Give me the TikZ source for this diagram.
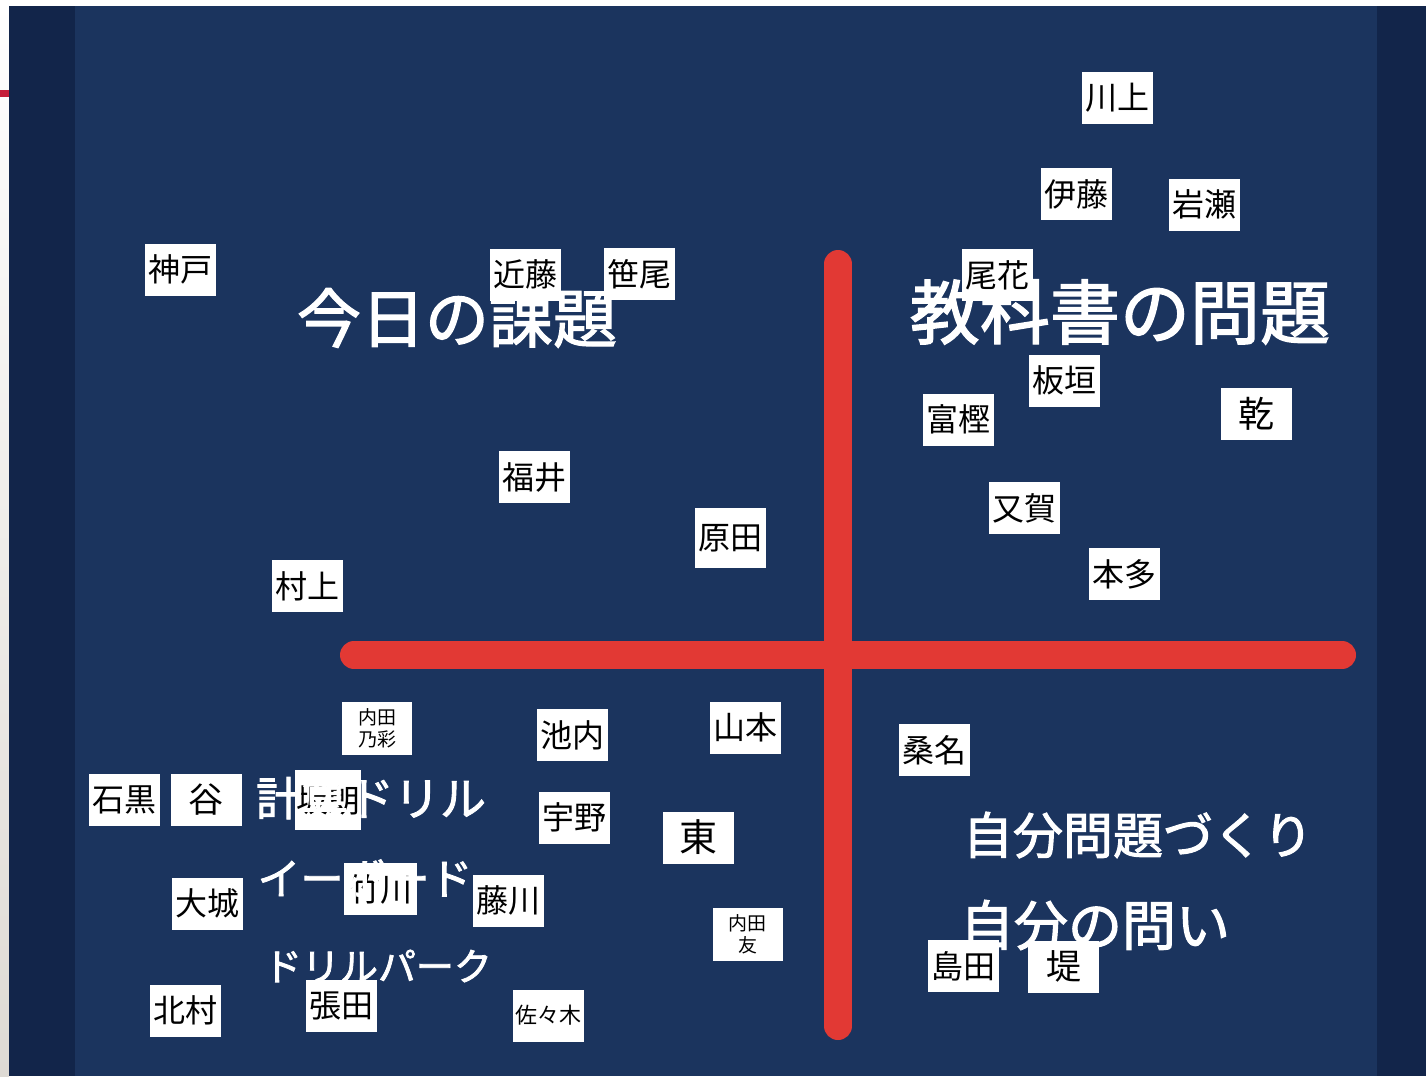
\documentclass[tikz,border=0pt]{standalone}
\usepackage{fontspec}
\newfontfamily\cjk{Noto Sans CJK JP}
\newfontfamily\hw[FakeBold=2]{Noto Sans CJK JP}
\definecolor{panel}{RGB}{27,52,94}
\definecolor{strip}{RGB}{18,37,74}
\definecolor{crossred}{RGB}{226,57,52}
\definecolor{tickred}{RGB}{196,30,58}
\definecolor{margin}{RGB}{222,218,212}
\tikzset{
  namebox/.style={fill=white, inner sep=0pt, minimum width=71pt, minimum height=52pt,
    text=black, font=\cjk\fontsize{32}{32}\selectfont},
  smallbox/.style={namebox, minimum width=70pt, minimum height=53pt, align=center,
    font=\cjk\fontsize{19}{22}\selectfont},
  hand/.style={text=white, inner sep=0pt},
  crossbar/.style={draw=crossred, line width=28pt, line cap=round}
}
\begin{document}
\begin{tikzpicture}[x=1pt,y=-1pt]
\useasboundingbox (0,0) rectangle (1426,1076);
% background
\fill[white] (0,0) rectangle (1426,1076);
\shade[top color=white, bottom color=margin] (0,0) rectangle (9,1076);
\fill[tickred] (0,90) rectangle (9,97);
\fill[strip] (9,6) rectangle (1426,1076);
\fill[panel] (75,6) rectangle (1377,1076);
% red cross
\coordinate (vt) at (838,264);
\coordinate (vb) at (838,1026);
\coordinate (hl) at (354,655);
\coordinate (hr) at (1342,655);
\draw[crossbar] (vt) -- (vb);
\draw[crossbar] (hl) -- (hr);
% handwritten headings (beneath labels)
\node[hand, font=\hw\fontsize{64}{64}\selectfont] (h1) at (457,318) {今日の課題};
\node[hand, font=\hw\fontsize{70}{70}\selectfont] (h2) at (1120,312) {教科書の問題};
\node[hand, font=\hw\fontsize{50}{50}\selectfont] (h3) at (1138,835) {自分問題づくり};
\node[hand, font=\hw\fontsize{54}{54}\selectfont] (h4) at (1095,925) {自分の問い};
% name labels
\node[namebox] (kawakami) at (1117.5,98) {川上};
\node[namebox] (itou) at (1076.5,194) {伊藤};
\node[namebox] (iwase) at (1204.5,204.5) {岩瀬};
\node[namebox] (kanbe) at (180.5,269.5) {神戸};
\node[namebox] (kondou) at (525.5,274.5) {近藤};
\node[namebox] (sasao) at (639.5,274) {笹尾};
\node[namebox] (obana) at (997.5,275) {尾花};
\node[namebox] (itagaki) at (1064.5,380.5) {板垣};
\node[namebox] (togashi) at (958,419.5) {富樫};
\node[namebox, font=\cjk\fontsize{36}{36}\selectfont] (inui) at (1256.5,413.5) {乾};
\node[namebox] (fukui) at (534.5,477) {福井};
\node[namebox, minimum height=60pt] (harada) at (730.5,538) {原田};
\node[namebox] (mataga) at (1024.5,508) {又賀};
\node[namebox] (honda) at (1124.5,574) {本多};
\node[namebox] (murakami) at (307.5,586) {村上};
\node[smallbox] (uchidaN) at (377,728.5) {内田\\乃彩};
\node[namebox] (ikeuchi) at (572.5,735) {池内};
\node[namebox] (yamamoto) at (745.5,727.5) {山本};
\node[namebox] (kuwana) at (934.5,750) {桑名};
\node[namebox] (ishiguro) at (124,799.5) {石黒};
\node[namebox, font=\cjk\fontsize{35}{35}\selectfont] (tani) at (206,799.5) {谷};
\node[namebox, minimum width=66pt, minimum height=60pt] (hidden) at (328,800) {坂朗};
\node[namebox] (uno) at (574.5,817.5) {宇野};
\node[namebox, font=\cjk\fontsize{38}{38}\selectfont] (higashi) at (698,837.5) {東};
\node[namebox] (ooshiro) at (207.5,903.5) {大城};
\node[namebox, minimum width=73pt] (takegawa) at (380.5,889) {竹川};
\node[namebox] (fujikawa) at (508.5,900.5) {藤川};
\node[smallbox] (uchidaT) at (747.5,934.5) {内田\\友};
\node[namebox] (shimada) at (963,966) {島田};
\node[namebox, font=\cjk\fontsize{35}{35}\selectfont] (tsutsumi) at (1063.5,966.5) {堤};
\node[namebox] (kitamura) at (185.5,1010.5) {北村};
\node[namebox] (harita) at (341.5,1006) {張田};
\node[namebox, font=\cjk\fontsize{22}{22}\selectfont] (sasaki) at (548.5,1015.5) {佐々木};
% handwritten tool names (over labels)
\node[hand, font=\hw\fontsize{46}{46}\selectfont] (t1) at (371,798) {計算ドリル};
\node[hand, font=\hw\fontsize{43}{43}\selectfont] (t2) at (365,878) {イーボード};
\node[hand, font=\hw\fontsize{38}{38}\selectfont] (t3) at (378,966) {ドリルパーク};
\end{tikzpicture}
\end{document}
